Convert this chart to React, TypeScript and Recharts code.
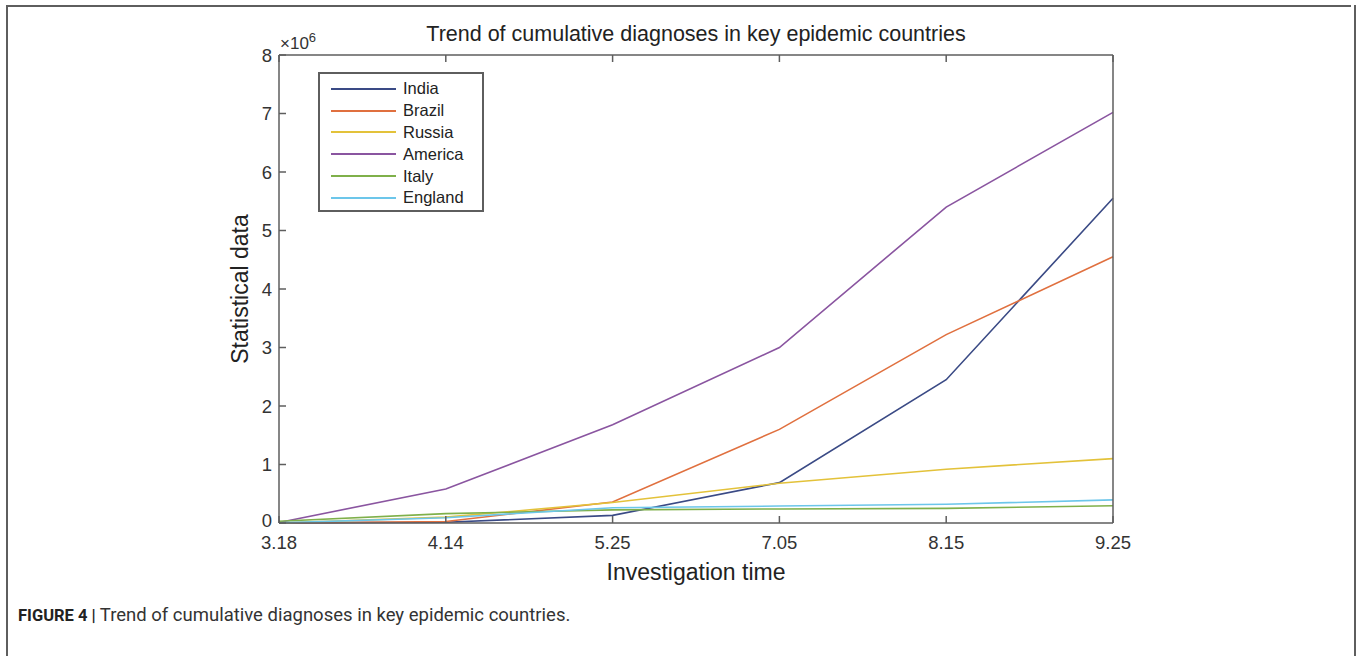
import React from 'react';
import { LineChart, Line, XAxis, YAxis, Legend } from 'recharts';

// investigation dates (month.day)
const dates = ['3.18', '4.14', '5.25', '7.05', '8.15', '9.25'];

// cumulative diagnoses
const india = [2000, 12000, 130000, 690000, 2450000, 5550000];
const brazil = [1000, 25000, 360000, 1600000, 3220000, 4550000];
const russia = [1000, 100000, 350000, 680000, 920000, 1100000];
const america = [10000, 580000, 1680000, 3000000, 5400000, 7020000];
const italy = [30000, 160000, 225000, 240000, 250000, 295000];
const england = [2000, 90000, 260000, 290000, 320000, 395000];

const yTicks = [0, 1, 2, 3, 4, 5, 6, 7, 8];

const series = [
  { key: 'India', values: india, color: '#3a4a85' },
  { key: 'Brazil', values: brazil, color: '#e0703f' },
  { key: 'Russia', values: russia, color: '#e3c23a' },
  { key: 'America', values: america, color: '#8a55a0' },
  { key: 'Italy', values: italy, color: '#7fb04a' },
  { key: 'England', values: england, color: '#6cc6ea' },
];

const data = dates.map((d, i) => {
  const row: any = { date: d };
  series.forEach(s => { row[s.key] = s.values[i]; });
  return row;
});

const W = 1360;
const H = 656;
const PLOT_LEFT = 279;
const PLOT_TOP = 55;
const PLOT_RIGHT = 1113;
const PLOT_BOTTOM = 523;
const AXIS_COLOR = '#5e5e5e';
const FONT = '"Liberation Sans", Arial, Helvetica, sans-serif';
const TICK_LEN = 7;

const LeftTick = (props: any) => {
  const { y, payload } = props;
  return (
    <g>
      <line x1={PLOT_LEFT} x2={PLOT_LEFT + TICK_LEN} y1={y} y2={y} stroke={AXIS_COLOR} strokeWidth={1.5} />
      <text x={PLOT_LEFT - 7} y={y} dy={payload.value === 0 ? 4 : 6.5} textAnchor="end" fontSize={18.5} fill="#333" fontFamily={FONT}>
        {payload.value / 1e6}
      </text>
    </g>
  );
};

const RightTick = (props: any) => {
  const { y } = props;
  return <line x1={PLOT_RIGHT - TICK_LEN} x2={PLOT_RIGHT} y1={y} y2={y} stroke={AXIS_COLOR} strokeWidth={1.5} />;
};

const BottomTick = (props: any) => {
  const { x, payload } = props;
  return (
    <g>
      <line x1={x} x2={x} y1={PLOT_BOTTOM - TICK_LEN} y2={PLOT_BOTTOM} stroke={AXIS_COLOR} strokeWidth={1.5} />
      <text x={x} y={PLOT_BOTTOM + 26} textAnchor="middle" fontSize={18.5} fill="#333" fontFamily={FONT}>
        {payload.value}
      </text>
    </g>
  );
};

const TopTick = (props: any) => {
  const { x } = props;
  return <line x1={x} x2={x} y1={PLOT_TOP} y2={PLOT_TOP + TICK_LEN} stroke={AXIS_COLOR} strokeWidth={1.5} />;
};

const LegendBox = () => (
  <div
    style={{
      border: `2px solid ${AXIS_COLOR}`,
      background: '#fff',
      width: 166,
      height: 140,
      boxSizing: 'border-box',
      paddingTop: 4,
      fontFamily: FONT,
    }}
  >
    {series.map(s => (
      <div key={s.key} style={{ display: 'flex', alignItems: 'center', height: 21.8 }}>
        <div style={{ width: 65, height: 2, background: s.color, marginLeft: 11, marginRight: 7 }} />
        <span style={{ fontSize: 16.5, color: '#222' }}>{s.key}</span>
      </div>
    ))}
  </div>
);

const frameLine = (style: React.CSSProperties) => (
  <div style={{ position: 'absolute', background: AXIS_COLOR, ...style }} />
);

export default function App() {
  return (
    <div style={{ position: 'fixed', left: 0, top: 0, width: W, height: H, background: '#fff', overflow: 'hidden' }}>
      <div style={{ position: 'absolute', left: 0, top: 0 }}>
        <LineChart
          width={W}
          height={H}
          data={data}
          margin={{ left: PLOT_LEFT - 60, right: W - PLOT_RIGHT - 20, top: PLOT_TOP - 20, bottom: H - PLOT_BOTTOM - 40 }}
        >
          <XAxis
            dataKey="date"
            xAxisId="b"
            height={40}
            interval={0}
            tickLine={false}
            tick={<BottomTick />}
            stroke={AXIS_COLOR}
            strokeWidth={1.5}
          />
          <XAxis
            dataKey="date"
            xAxisId="t"
            orientation="top"
            height={20}
            interval={0}
            tickLine={false}
            tick={<TopTick />}
            stroke={AXIS_COLOR}
            strokeWidth={1.5}
          />
          <YAxis
            yAxisId="l"
            width={60}
            domain={[0, 8e6]}
            ticks={yTicks.map(t => t * 1e6)}
            interval={0}
            tickLine={false}
            tick={<LeftTick />}
            stroke={AXIS_COLOR}
            strokeWidth={1.5}
          />
          <YAxis
            yAxisId="r"
            orientation="right"
            width={20}
            domain={[0, 8e6]}
            ticks={yTicks.map(t => t * 1e6)}
            interval={0}
            tickLine={false}
            tick={<RightTick />}
            stroke={AXIS_COLOR}
            strokeWidth={1.5}
          />
          <Legend
            layout="vertical"
            align="center"
            verticalAlign="middle"
            content={<LegendBox />}
            wrapperStyle={{ position: 'absolute', left: 318, top: 72, width: 166 }}
          />
          {series.map(s => (
            <Line
              key={s.key}
              xAxisId="b"
              yAxisId="l"
              dataKey={s.key}
              name={s.key}
              stroke={s.color}
              strokeWidth={1.6}
              dot={false}
              type="linear"
              isAnimationActive={false}
            />
          ))}
        </LineChart>
      </div>
      {/* figure frame, open at the bottom */}
      {frameLine({ left: 6, top: 5, width: 1351 - 6, height: 2 })}
      {frameLine({ left: 6, top: 5, width: 2, height: H })}
      {frameLine({ left: 1354, top: 5, width: 2, height: H })}
      {/* title */}
      <div
        style={{
          position: 'absolute',
          left: PLOT_LEFT,
          width: PLOT_RIGHT - PLOT_LEFT,
          top: 22,
          textAlign: 'center',
          fontFamily: FONT,
          fontSize: 21.5,
          color: '#222',
        }}
      >
        Trend of cumulative diagnoses in key epidemic countries
      </div>
      {/* exponent */}
      <div style={{ position: 'absolute', left: 280, top: 30, fontFamily: FONT, fontSize: 17, color: '#333' }}>
        ×10<sup style={{ fontSize: 13 }}>6</sup>
      </div>
      {/* y label */}
      <div
        style={{
          position: 'absolute',
          left: 240,
          top: (PLOT_TOP + PLOT_BOTTOM) / 2,
          transform: 'translate(-50%, -50%) rotate(-90deg)',
          whiteSpace: 'nowrap',
          fontFamily: FONT,
          fontSize: 23,
          color: '#222',
        }}
      >
        Statistical data
      </div>
      {/* x label */}
      <div
        style={{
          position: 'absolute',
          left: PLOT_LEFT,
          width: PLOT_RIGHT - PLOT_LEFT,
          top: 559,
          textAlign: 'center',
          fontFamily: FONT,
          fontSize: 23,
          color: '#222',
        }}
      >
        Investigation time
      </div>
      {/* caption */}
      <div
        style={{
          position: 'absolute',
          left: 18,
          top: 604,
          fontFamily: 'Roboto, Arial, sans-serif',
          fontSize: 16.5,
          color: '#222',
        }}
      >
        <b>FIGURE 4 |</b> <span style={{ fontSize: 18.5, color: '#333' }}>Trend of cumulative diagnoses in key epidemic countries.</span>
      </div>
    </div>
  );
}
